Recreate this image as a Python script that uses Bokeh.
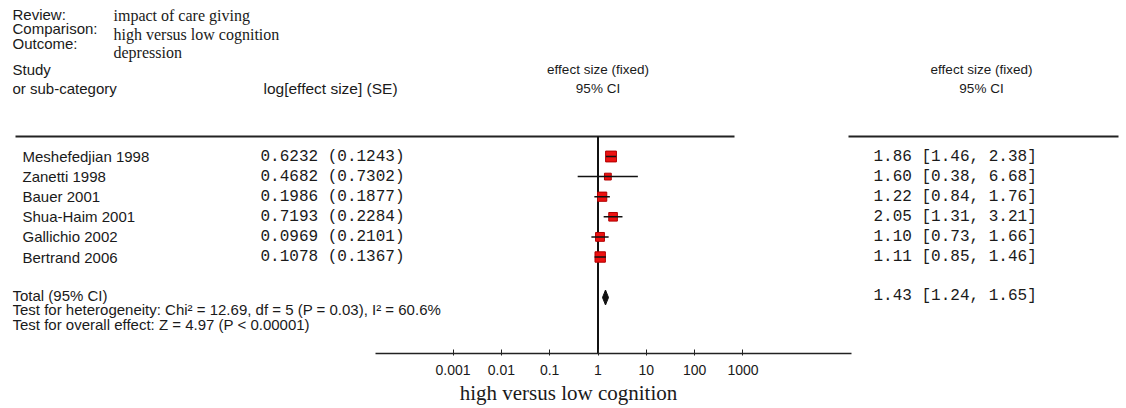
import math
from bokeh.plotting import figure
from bokeh.models import (Range1d, LogScale, LogAxis, FixedTicker,
                          CustomJSTickFormatter, ColumnDataSource)
from bokeh.core.properties import value
from bokeh.embed import file_html
from bokeh.resources import INLINE

# ---------------- data ----------------
studies = ["Meshefedjian 1998", "Zanetti 1998", "Bauer 2001",
           "Shua-Haim 2001", "Gallichio 2002", "Bertrand 2006"]
log_es = [0.6232, 0.4682, 0.1986, 0.7193, 0.0969, 0.1078]
se = [0.1243, 0.7302, 0.1877, 0.2284, 0.2101, 0.1367]
es = [1.86, 1.60, 1.22, 2.05, 1.10, 1.11]
ci_lo = [1.46, 0.38, 0.84, 1.31, 0.73, 0.85]
ci_hi = [2.38, 6.68, 1.76, 3.21, 1.66, 1.46]
total_es = 1.43
total_lo = 1.24
total_hi = 1.65
tick_values = [0.001, 0.01, 0.1, 1, 10, 100, 1000]
het_text = "Test for heterogeneity: Chi\u00b2 = 12.69, df = 5 (P = 0.03), I\u00b2 = 60.6%"
overall_text = "Test for overall effect: Z = 4.97 (P < 0.00001)"
review = "impact of care giving"
comparison = "high versus low cognition"
outcome = "depression"

# ---------------- layout ----------------
X0 = 12             # frame left edge (page pixels)
FW, FH = 1112, 353
X1 = 597.5 - X0     # frame offset of effect = 1
PPD = 48.33         # pixels per decade
lo = 10 ** (-X1 / PPD)
hi = 10 ** ((FW - X1) / PPD)

p = figure(frame_width=FW, frame_height=FH, output_backend="svg",
           toolbar_location=None, x_axis_type=None, y_axis_type=None,
           x_range=Range1d(X0, X0 + FW), y_range=Range1d(FH, 0),
           min_border=0, min_border_left=X0, outline_line_color=None)
p.extra_x_ranges = {"es": Range1d(lo, hi)}
p.extra_x_scales = {"es": LogScale()}
p.xgrid.visible = False
p.ygrid.visible = False

SANS = value("Liberation Sans")
SERIF = value("Liberation Serif")
MONO = value("Liberation Mono")
TXT = "#1a1a1a"

def txt(x, y, t, font=SANS, size="15px", align="left", **kw):
    p.text(x=[x], y=[y], text=[t], text_font=font, text_font_size=size,
           text_align=align, text_baseline="middle", text_color=TXT, **kw)

# header
txt(12, 14, "Review:")
txt(12, 28, "Comparison:")
txt(12, 43, "Outcome:")
txt(113, 15, review, font=SERIF, size="16px")
txt(113, 34, comparison, font=SERIF, size="16px")
txt(113, 52, outcome, font=SERIF, size="16px")
txt(12, 69, "Study")
txt(12, 88, "or sub-category")
txt(263, 88, "log[effect size] (SE)", size="15.5px")
p.text(x=[1, 1], y=[69, 88], text=["effect size (fixed)", "95% CI"],
       x_range_name="es", text_font=SANS, text_font_size="13.5px",
       text_align="center", text_baseline="middle", text_color=TXT)
txt(981, 69, "effect size (fixed)", size="13.5px", align="center")
txt(981, 88, "95% CI", size="13.5px", align="center")

# separator lines
p.segment(x0=[15, 848], y0=[136, 136], x1=[734, 1118], y1=[136, 136],
          line_color="#222222", line_width=2)

# rows
ROW0, STEP = 156, 20.1
ys = [ROW0 + i * STEP for i in range(len(studies))]
w = [1.0 / s ** 2 for s in se]
sizes = [6 + 0.6 * math.sqrt(v) for v in w]
src = ColumnDataSource(dict(
    y=ys, name=studies, es=es, lo=ci_lo, hi=ci_hi, size=sizes,
    col1=["%.4f (%.4f)" % (a, b) for a, b in zip(log_es, se)],
    col2=["%.2f [%.2f, %.2f]" % (a, b, c) for a, b, c in zip(es, ci_lo, ci_hi)],
))
p.text(x=22, y="y", text="name", source=src, text_font=SANS,
       text_font_size="15px", text_baseline="middle", text_color=TXT)
p.text(x=260, y="y", text="col1", source=src, text_font=MONO,
       text_font_size="16px", text_baseline="middle", text_color=TXT)
p.text(x=873, y="y", text="col2", source=src, text_font=MONO,
       text_font_size="16px", text_baseline="middle", text_color=TXT)

# vertical line of no effect
p.segment(x0=[1], y0=[136], x1=[1], y1=[FH], x_range_name="es",
          line_color="#111111", line_width=2)

p.scatter(x="es", y="y", size="size", marker="square", source=src,
          x_range_name="es", fill_color="#ee1111", line_color="#b00000",
          line_width=1)
p.segment(x0="lo", y0="y", x1="hi", y1="y", source=src, x_range_name="es",
          line_color="#111111", line_width=1.5)

# total
TY = 297
p.patch(x=[total_lo, total_es, total_hi, total_es],
        y=[TY, TY - 7.5, TY, TY + 7.5], x_range_name="es",
        fill_color="#111111", line_color="#111111")
txt(12, 295, "Total (95% CI)")
txt(873, 295, "%.2f [%.2f, %.2f]" % (total_es, total_lo, total_hi),
    font=MONO, size="16px")
txt(12, 309, het_text)
txt(12, 324, overall_text)

# axis
ax = LogAxis(x_range_name="es", ticker=FixedTicker(ticks=tick_values),
             formatter=CustomJSTickFormatter(code="return tick.toString();"),
             bounds=(10 ** -4.6, 10 ** 5.24))
ax.axis_line_color = "#222222"
ax.axis_line_width = 1.5
ax.major_tick_in = 4
ax.major_tick_out = 2
ax.major_tick_line_color = "#222222"
ax.minor_tick_line_color = None
ax.major_label_text_font = "Liberation Sans"
ax.major_label_text_font_size = "14px"
ax.major_label_text_color = TXT
ax.major_label_standoff = 9
ax.axis_label = comparison
ax.axis_label_text_font = "Liberation Serif"
ax.axis_label_text_font_size = "21px"
ax.axis_label_text_font_style = "normal"
ax.axis_label_text_color = TXT
ax.axis_label_standoff = 3
p.add_layout(ax, "below")

open("out.html", "w").write(file_html(p, INLINE))
